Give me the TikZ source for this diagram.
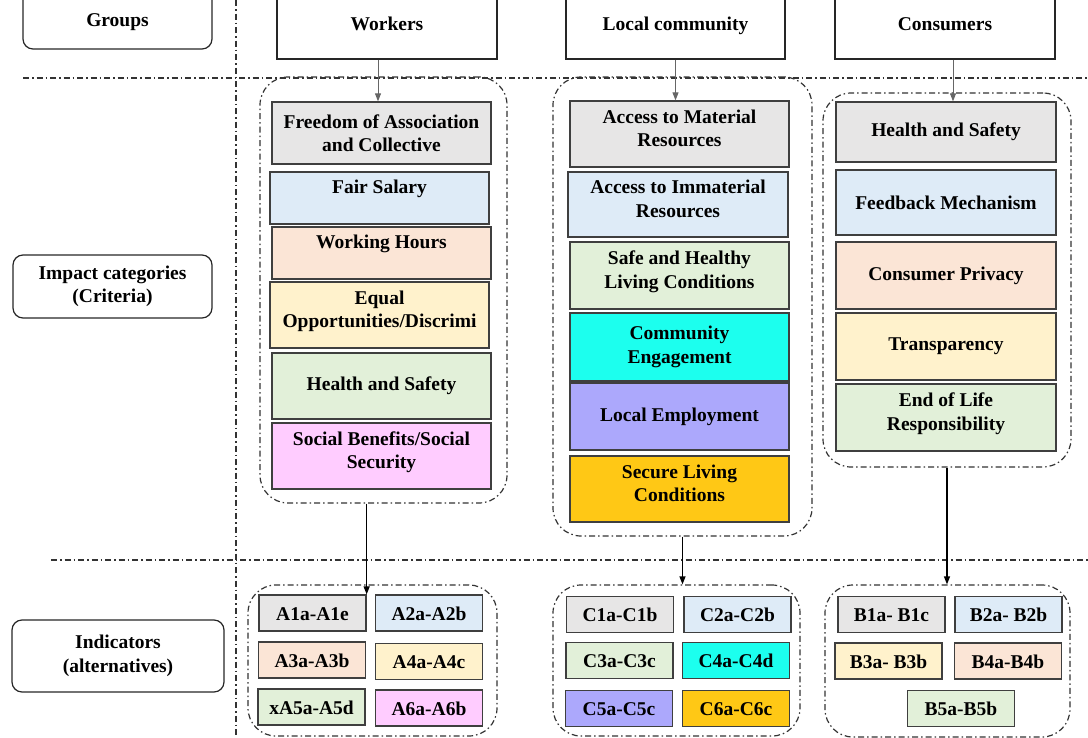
\documentclass[tikz,border=0pt]{standalone}
\usepackage{fontspec}
\setmainfont{Liberation Serif}
\usetikzlibrary{arrows.meta,calc}
\definecolor{cgray}{HTML}{E7E6E6}
\definecolor{cblue}{HTML}{DEEBF7}
\definecolor{cpeach}{HTML}{FBE5D6}
\definecolor{cyel}{HTML}{FFF2CC}
\definecolor{cgreen}{HTML}{E2F0D9}
\definecolor{cpink}{HTML}{FFCCFF}
\definecolor{ccyan}{HTML}{1CFFEE}
\definecolor{clav}{HTML}{ACA8FC}
\definecolor{cgold}{HTML}{FFC815}
\definecolor{edge}{HTML}{3F3F3F}
\newcommand{\lift}{\\[-12pt]~}
\tikzset{
  txt/.style={font=\bfseries\fontsize{19.5}{23.5}\selectfont, align=center, inner sep=0pt},
  cbox/.style={txt, draw=edge, line width=1.3pt},
  hbox/.style={txt, draw=black!85, line width=1.2pt, text height=14pt, text depth=0pt},
  lbox/.style={txt, draw=black!85, line width=1.2pt, rounded corners=10pt},
  dd/.style={draw=black!80, line width=1.2pt, dash pattern=on 6pt off 3pt on 1.5pt off 3pt},
  cont/.style={dd, rounded corners=28pt, inner sep=0pt},
  ibox/.style={cbox, minimum width=107pt, minimum height=36pt, text height=14pt, text depth=0pt},
  garr/.style={draw=black!60, line width=1pt, -{Triangle[length=8pt,width=6pt]}},
  barr/.style={draw=black, line width=1.2pt, -{Triangle[length=8pt,width=6pt]}}
}
\begin{document}
\begin{tikzpicture}[x=1pt,y=-1pt]
\path[use as bounding box] (0,0) rectangle (1088,737);

% separators
\draw[dd] (23,78) -- (1088,78);
\draw[dd] (51,560) -- (1088,560);
\draw[dd] (236,0) -- (236,737);

% left labels
\node[lbox, minimum width=189pt, minimum height=60pt, text height=14pt, text depth=0pt] (gr) at (117.5,19) {Groups};
\node[lbox, minimum width=199pt, minimum height=63pt] (ic) at (112.5,286.5) {Impact categories\\(Criteria)};
\node[lbox, minimum width=212pt, minimum height=72pt] (ind) at (118,656) {Indicators\\(alternatives)};

% group headers
\node[hbox, minimum width=220pt, minimum height=72pt] (hw) at (387,23) {Workers};
\node[hbox, minimum width=219pt, minimum height=72pt] (hl) at (675.5,23) {Local community};
\node[hbox, minimum width=220pt, minimum height=72pt] (hc) at (945,23) {Consumers};

% criteria containers
\node[cont, minimum width=247pt, minimum height=426pt] (wc) at (383.5,290) {};
\node[cont, minimum width=259pt, minimum height=459pt] (lc) at (682.5,306.5) {};
\node[cont, minimum width=248pt, minimum height=374pt] (cc) at (947,280) {};

% workers criteria
\node[cbox, fill=cgray, minimum width=219pt, minimum height=62pt] (w1) at (381.5,133) {Freedom of Association\\and Collective};
\node[cbox, fill=cblue, minimum width=219pt, minimum height=52pt] (w2) at (379.5,198) {Fair Salary\\~};
\node[cbox, fill=cpeach, minimum width=219pt, minimum height=52pt] (w3) at (381.5,253) {Working Hours\\~};
\node[cbox, fill=cyel, minimum width=219pt, minimum height=66pt] (w4) at (379.5,315) {Equal\\Opportunities/Discrimi\lift};
\node[cbox, fill=cgreen, minimum width=219pt, minimum height=66pt] (w5) at (381.5,386) {Health and Safety};
\node[cbox, fill=cpink, minimum width=219pt, minimum height=66pt] (w6) at (381.5,456) {Social Benefits/Social\\Security\lift};

% local community criteria
\node[cbox, fill=cgray, minimum width=219pt, minimum height=66pt] (l1) at (679.5,134) {Access to Material\\Resources\lift};
\node[cbox, fill=cblue, minimum width=220pt, minimum height=65pt] (l2) at (678,204.5) {Access to Immaterial\\Resources\lift};
\node[cbox, fill=cgreen, minimum width=219pt, minimum height=67pt] (l3) at (679.5,275.5) {Safe and Healthy\\Living Conditions\lift};
\node[cbox, fill=ccyan, minimum width=219pt, minimum height=68pt] (l4) at (679.5,347) {Community\\Engagement};
\node[cbox, fill=clav, minimum width=219pt, minimum height=67pt] (l5) at (679.5,416.5) {Local Employment};
\node[cbox, fill=cgold, minimum width=219pt, minimum height=66pt] (l6) at (679.5,489) {Secure Living\\Conditions\lift};

% consumers criteria
\node[cbox, fill=cgray, minimum width=220pt, minimum height=60pt] (c1) at (946,132) {Health and Safety};
\node[cbox, fill=cblue, minimum width=220pt, minimum height=65pt] (c2) at (946,202.5) {Feedback Mechanism};
\node[cbox, fill=cpeach, minimum width=220pt, minimum height=67pt] (c3) at (946,275.5) {Consumer Privacy};
\node[cbox, fill=cyel, minimum width=220pt, minimum height=67pt] (c4) at (946,346.5) {Transparency};
\node[cbox, fill=cgreen, minimum width=220pt, minimum height=67pt] (c5) at (946,417.5) {End of Life\\Responsibility\lift};

% indicator containers
\node[cont, minimum width=249pt, minimum height=151pt] (wi) at (372.5,660.5) {};
\node[cont, minimum width=247pt, minimum height=151pt] (li) at (676.5,660.5) {};
\node[cont, minimum width=245pt, minimum height=152pt] (ci) at (947.5,661) {};

% workers indicators
\node[ibox, fill=cgray] (a1) at (312.5,613) {A1a-A1e};
\node[ibox, fill=cblue] (a2) at (429,613) {A2a-A2b};
\node[ibox, fill=cpeach] (a3) at (312,660) {A3a-A3b};
\node[ibox, fill=cyel] (a4) at (429,661.5) {A4a-A4c};
\node[ibox, fill=cgreen] (a5) at (311.5,707) {xA5a-A5d};
\node[ibox, fill=cpink] (a6) at (429,708) {A6a-A6b};

% local community indicators
\node[ibox, fill=cgray] (k1) at (620,614.5) {C1a-C1b};
\node[ibox, fill=cblue] (k2) at (737.5,614.5) {C2a-C2b};
\node[ibox, fill=cgreen] (k3) at (619.5,660.5) {C3a-C3c};
\node[ibox, fill=ccyan] (k4) at (736,660.5) {C4a-C4d};
\node[ibox, fill=clav] (k5) at (619,708.5) {C5a-C5c};
\node[ibox, fill=cgold] (k6) at (736,708.5) {C6a-C6c};

% consumers indicators
\node[ibox, fill=cgray] (b1) at (891.5,614.5) {B1a- B1c};
\node[ibox, fill=cblue] (b2) at (1008.5,614.5) {B2a- B2b};
\node[ibox, fill=cyel] (b3) at (888.5,661) {B3a- B3b};
\node[ibox, fill=cpeach] (b4) at (1008,661) {B4a-B4b};
\node[ibox, fill=cgreen] (b5) at (961,708.5) {B5a-B5b};

% arrows: groups -> criteria
\draw[garr] ([xshift=-9pt]hw.south) -- ([xshift=-9pt]hw.south |- w1.north);
\draw[garr] (hl.south) -- (hl.south |- l1.north);
\draw[garr] ([xshift=8pt]hc.south) -- ([xshift=8pt]hc.south |- c1.north);

% arrows: criteria -> indicators
\draw[barr] (wc.south -| a1.north east) -- (a1.north east);
\draw[barr] (lc.south) -- (lc.south |- li.north);
\draw[barr] (cc.south) -- (cc.south |- ci.north);
\end{tikzpicture}
\end{document}
